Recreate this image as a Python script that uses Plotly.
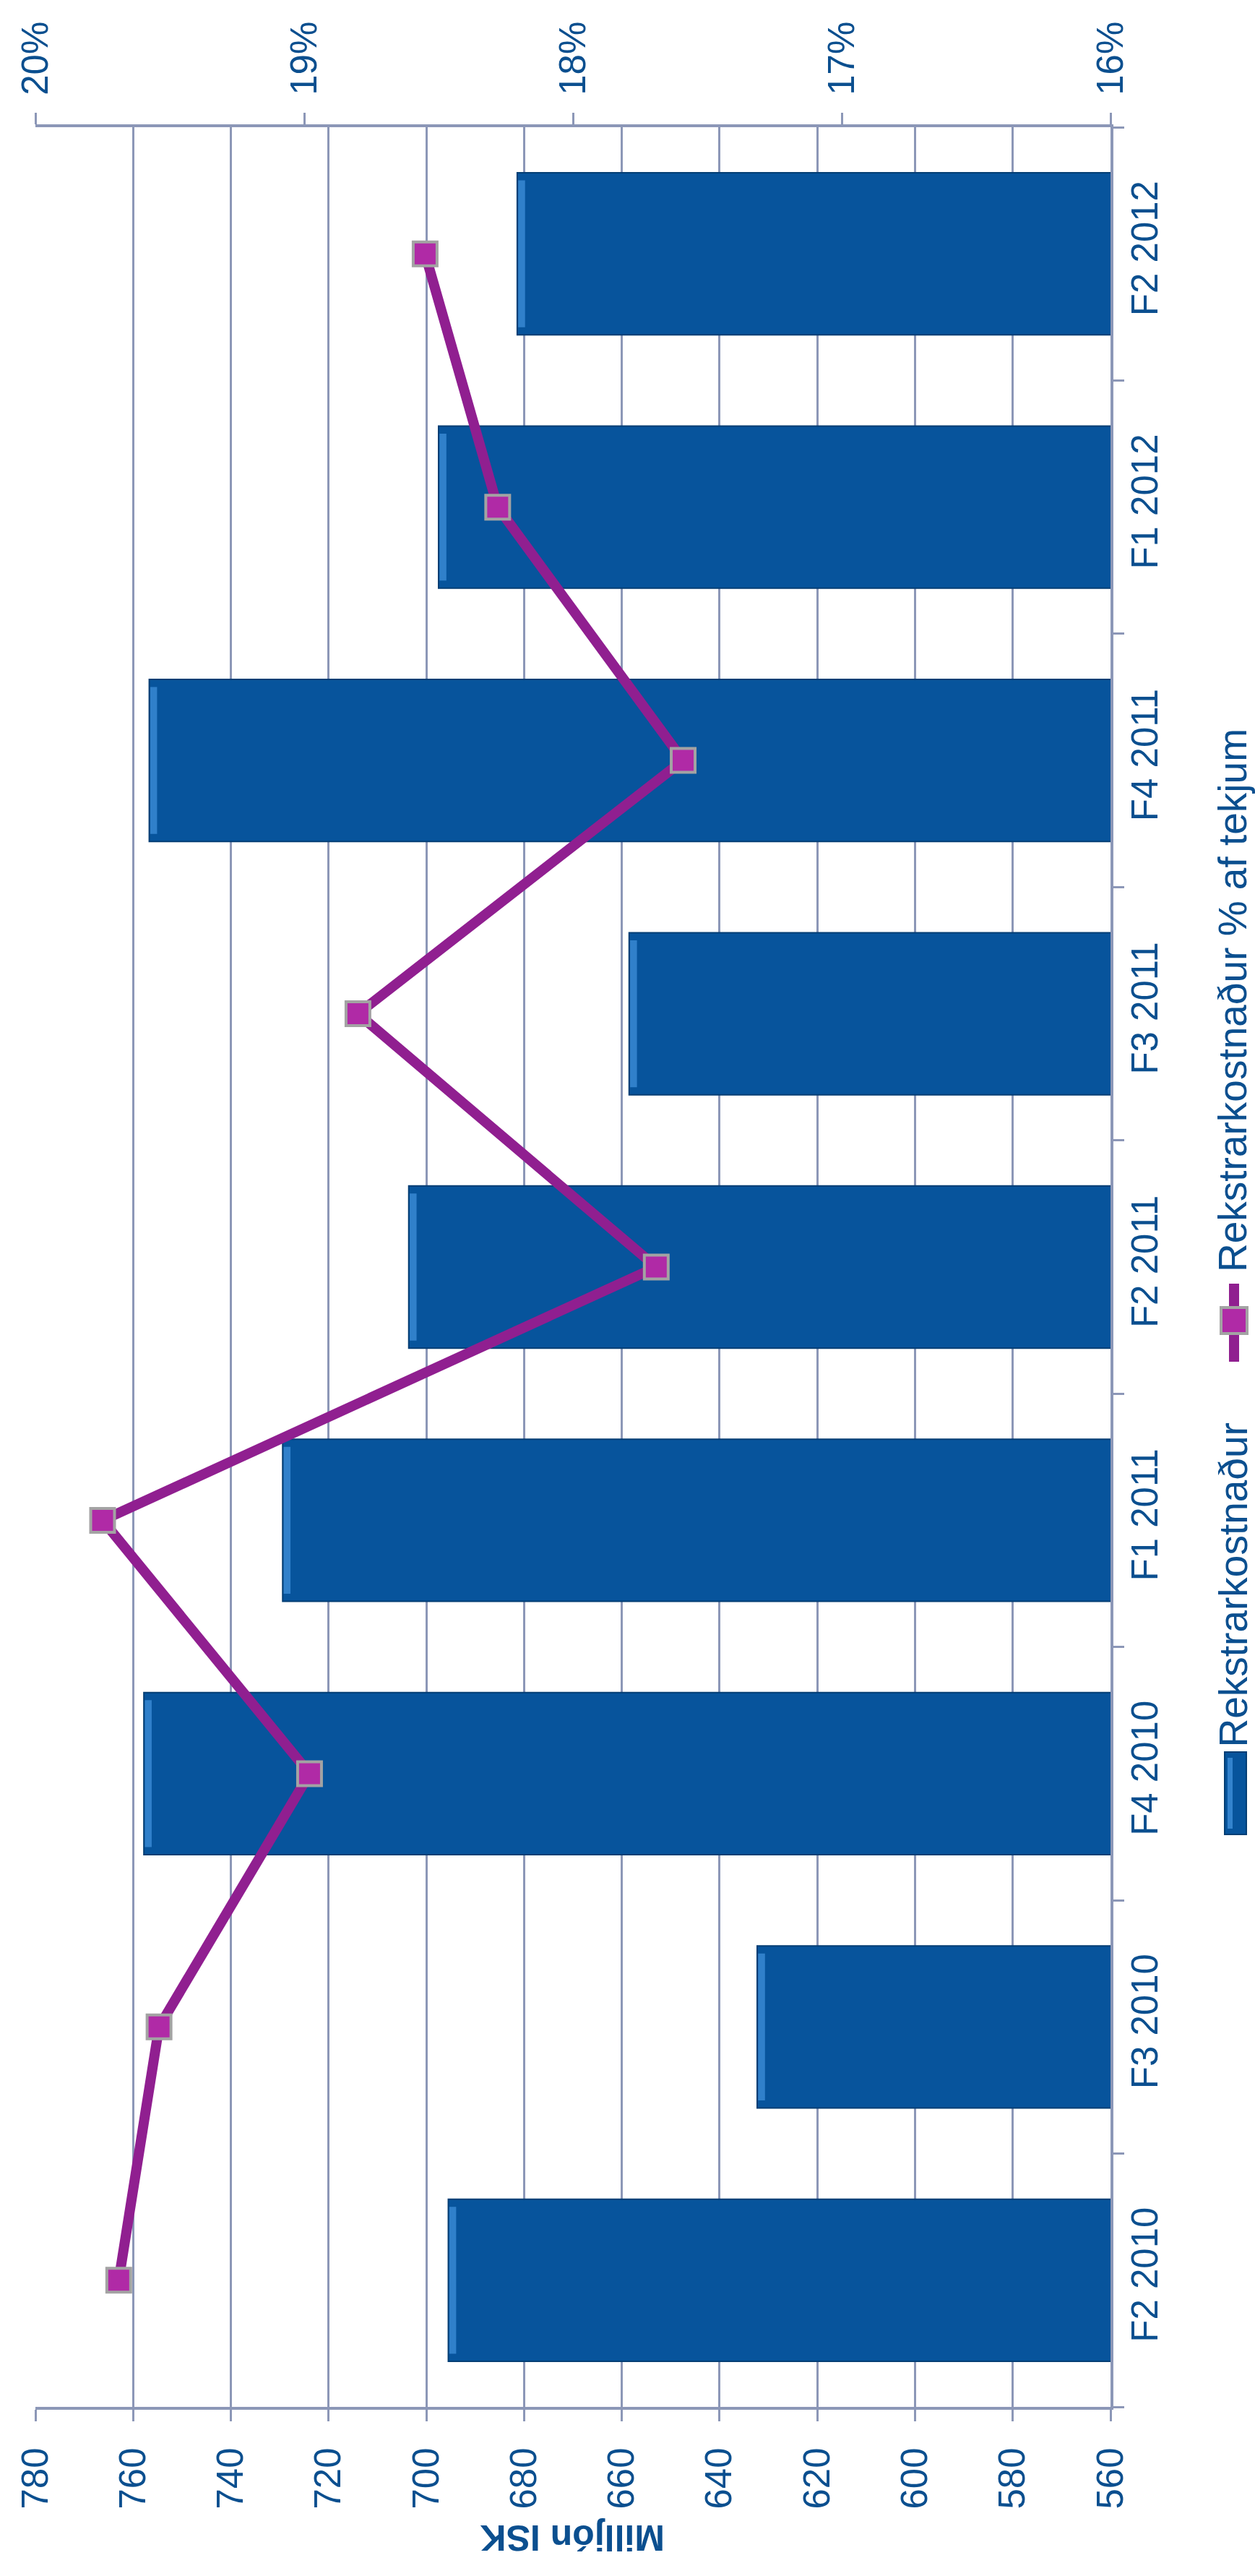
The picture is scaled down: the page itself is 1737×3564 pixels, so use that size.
import plotly.graph_objects as go

# Quarterly operating cost (million ISK) and cost as % of revenue
quarters = ["F2 2010", "F3 2010", "F4 2010", "F1 2011", "F2 2011",
            "F3 2011", "F4 2011", "F1 2012", "F2 2012"]
cost_misk = [695.5, 632.3, 757.8, 729.4, 703.6, 658.5, 756.7, 697.5, 681.4]
cost_pct = [19.69, 19.54, 18.98, 19.75, 17.69, 18.80, 17.59, 18.28, 18.55]

cost_ticks = list(range(560, 781, 20))
pct_ticks = [16, 17, 18, 19, 20]

bar_name = "Rekstrarkostnaður"
line_name = "Rekstrarkostnaður % af tekjum"
axis_title = "Milljón ISK"

# colours
BLUE = "#07549C"
BLUE_EDGE = "#043E74"
BLUE_HI = "#3F8FDA"
PURPLE = "#901F90"
MAGENTA = "#B02AA6"
GREY = "#A3A3A3"
GRID = "#8C97B7"
TXT = "#0B4F8F"
FONT = "Liberation Sans, Arial, Helvetica, sans-serif"

W_PX, H_PX = 1737, 3564
L, R, T, B = 49, 1537, 176, 3330


def px(x):
    return (x - L) / (R - L)


def py(y):
    return (B - y) / (B - T)


fig = go.Figure()

# cost bars (horizontal, axis runs from 780 on the left to 560 on the right)
fig.add_trace(go.Bar(
    y=quarters, x=cost_misk, orientation="h", width=0.64,
    marker=dict(color=BLUE, line=dict(color=BLUE_EDGE, width=2)),
    name=bar_name, showlegend=False,
))
# bevel highlight at the end of each bar
fig.add_trace(go.Bar(
    y=quarters, x=[1.4] * len(cost_misk), base=[v - 1.6 for v in cost_misk],
    orientation="h", width=0.58,
    marker=dict(color=BLUE_HI, opacity=0.75, line=dict(width=0)),
    hoverinfo="skip", showlegend=False,
))

# percentage line on the top axis
fig.add_trace(go.Scatter(
    y=quarters, x=cost_pct, xaxis="x2", yaxis="y",
    mode="lines+markers", name=line_name, showlegend=False,
    line=dict(color=PURPLE, width=14),
    marker=dict(symbol="square", size=33, color=MAGENTA,
                line=dict(color=GREY, width=4)),
    cliponaxis=False,
))

tickfont = dict(family=FONT, size=51, color=TXT)
legendfont = dict(family=FONT, size=55, color=TXT)

fig.update_layout(
    width=W_PX, height=H_PX,
    margin=dict(l=L, r=W_PX - R, t=T, b=H_PX - B, pad=0),
    paper_bgcolor="white", plot_bgcolor="white",
    barmode="overlay", bargap=0.36,
    showlegend=False,
    font=dict(family=FONT, color=TXT),
    xaxis=dict(
        range=[780, 560], tickvals=cost_ticks, tickangle=-90,
        tickfont=tickfont, showgrid=True, gridcolor=GRID, gridwidth=3,
        showline=True, linecolor=GRID, linewidth=4,
        ticks="outside", ticklen=16, tickwidth=3, tickcolor=GRID,
        ticklabelstandoff=16,
        zeroline=False, side="bottom",
    ),
    xaxis2=dict(
        range=[20, 16], tickvals=pct_ticks,
        ticktext=[f"{t}%" for t in pct_ticks], tickangle=-90,
        tickfont=tickfont, overlaying="x", side="top", anchor="y",
        showgrid=False, showline=True, linecolor=GRID, linewidth=4,
        ticks="outside", ticklen=16, tickwidth=3, tickcolor=GRID,
        ticklabelstandoff=14,
        zeroline=False,
    ),
    yaxis=dict(
        type="category", categoryorder="array", categoryarray=quarters,
        range=[-0.5, len(quarters) - 0.5], side="right",
        tickangle=-90, tickfont=tickfont,
        showline=True, linecolor=GRID, linewidth=4,
        ticks="outside", ticklen=15, tickwidth=3, tickcolor=GRID,
        tickson="boundaries", showgrid=False, zeroline=False,
    ),
)

shapes = [
    # legend: bar swatch
    dict(type="rect", xref="paper", yref="paper",
         x0=px(1695), x1=px(1725), y0=py(2538), y1=py(2424),
         fillcolor=BLUE, line=dict(color=BLUE_EDGE, width=2)),
    dict(type="rect", xref="paper", yref="paper",
         x0=px(1699), x1=px(1706), y0=py(2530), y1=py(2432),
         fillcolor=BLUE_HI, line=dict(width=0), opacity=0.8),
    # legend: line swatch with marker
    dict(type="line", xref="paper", yref="paper",
         x0=px(1708), x1=px(1708), y0=py(1884), y1=py(1776),
         line=dict(color=PURPLE, width=14)),
    dict(type="rect", xref="paper", yref="paper",
         x0=px(1690), x1=px(1726), y0=py(1845), y1=py(1809),
         fillcolor=MAGENTA, line=dict(color=GREY, width=4)),
]

annotations = [
    dict(text=bar_name, xref="paper", yref="paper",
         x=px(1706), y=py(2420), xanchor="center", yanchor="bottom",
         textangle=-90, showarrow=False, font=legendfont),
    dict(text=line_name, xref="paper", yref="paper",
         x=px(1706), y=py(1762), xanchor="center", yanchor="bottom",
         textangle=-90, showarrow=False, font=legendfont),
    dict(text=f"<b>{axis_title}</b>", xref="paper", yref="paper",
         x=px(792), y=py(3511), xanchor="center", yanchor="middle",
         textangle=180, showarrow=False,
         font=dict(family=FONT, size=50, color=TXT)),
]

fig.update_layout(shapes=shapes, annotations=annotations)

fig.write_html("out.html")
